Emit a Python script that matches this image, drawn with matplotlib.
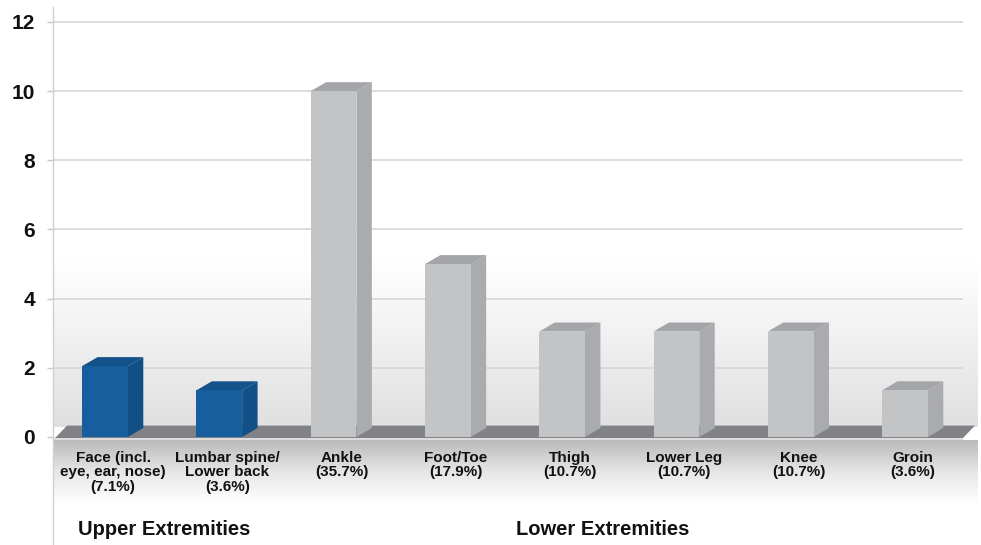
import numpy as np
import matplotlib
matplotlib.use("Agg")
import matplotlib.pyplot as plt
from matplotlib.patches import Polygon
from matplotlib.colors import LinearSegmentedColormap

plt.rcParams["font.family"] = ["Liberation Sans", "DejaVu Sans"]
plt.rcParams["font.weight"] = "bold"

categories = [
    "Face (incl.\neye, ear, nose)\n(7.1%)",
    "Lumbar spine/\nLower back\n(3.6%)",
    "Ankle\n(35.7%)",
    "Foot/Toe\n(17.9%)",
    "Thigh\n(10.7%)",
    "Lower Leg\n(10.7%)",
    "Knee\n(10.7%)",
    "Groin\n(3.6%)",
]
values = [2.05, 1.35, 10.0, 5.0, 3.05, 3.05, 3.05, 1.35]
is_upper = [True, True, False, False, False, False, False, False]
group_labels = ["Upper Extremities", "Lower Extremities"]
yticks = [0, 2, 4, 6, 8, 10, 12]

blue = {"front": "#175e9f", "side": "#124f87", "top": "#14528c"}
gray = {"front": "#c3c4c6", "side": "#a9abae", "top": "#a3a5a8"}

fig = plt.figure(figsize=(9.81, 5.45), dpi=100)
ax = fig.add_axes([53 / 981, 0, 928 / 981, 1])

x_left, x_right = -0.455, 7.665
ax.set_xlim(x_left, x_right)
ax.set_ylim(-3.123, 12.636)

# back wall gradient and band under the floor
wall = LinearSegmentedColormap.from_list("wall", ["#e0e0e0", "#ffffff"])
grad = np.linspace(0, 1, 256).reshape(-1, 1)
ax.imshow(grad, extent=[x_left, 7.63, 0.3, 5.1], origin="lower", cmap=wall,
          aspect="auto", zorder=0)
under = LinearSegmentedColormap.from_list("under", ["#ffffff", "#e6e6e6", "#bababa"])
ax.imshow(grad, extent=[x_left, 7.63, -1.9, -0.08], origin="lower", cmap=under,
          aspect="auto", zorder=0)

# gridlines
ax.hlines(yticks[1:], x_left, 7.507, color="#d9d9d9", lw=1.3, zorder=1)

# floor
floor_d = 0.33
ax.add_patch(Polygon([(-0.437, -0.03), (7.507, -0.03), (7.612, floor_d),
                      (-0.332, floor_d)], closed=True, facecolor="#808285",
                     edgecolor="none", zorder=2))
ax.hlines(-0.07, x_left, 7.507, color="#d6d6d6", lw=1.2, zorder=2)

# 3D bars
w = 0.4
dx, dy = 0.135, 0.26
for i, (v, up) in enumerate(zip(values, is_upper)):
    c = blue if up else gray
    l, r = i - w / 2, i + w / 2
    ax.add_patch(Polygon([(r, 0), (r + dx, dy), (r + dx, v + dy), (r, v)],
                         closed=True, facecolor=c["side"], edgecolor="none", zorder=3))
    ax.add_patch(Polygon([(l, v), (l + dx, v + dy), (r + dx, v + dy), (r, v)],
                         closed=True, facecolor=c["top"], edgecolor="none", zorder=3))
    ax.add_patch(Polygon([(l, 0), (r, 0), (r, v), (l, v)],
                         closed=True, facecolor=c["front"], edgecolor="none", zorder=4))
    ax.text(i + 0.07, -0.4, categories[i], ha="center", va="top", fontsize=11,
            fontweight="bold", linespacing=1.05, color="#111111", zorder=5)

ax.text(-0.236, -2.68, group_labels[0], ha="left", va="center", fontsize=14.5,
        fontweight="bold", color="#111111")
ax.text(4.357, -2.68, group_labels[1], ha="center", va="center", fontsize=14.5,
        fontweight="bold", color="#111111")

# axis
for s in ["top", "right", "bottom"]:
    ax.spines[s].set_visible(False)
ax.spines["left"].set_color("#d0d0d0")
ax.spines["left"].set_linewidth(1.0)
ax.spines["left"].set_bounds(-3.2, 12.43)
ax.set_xticks([])
ax.set_yticks(yticks)
ax.set_yticklabels([str(t) for t in yticks], fontsize=15, fontweight="bold")
ax.tick_params(axis="y", length=4.3, width=1.0, color="#c8c8c8", pad=8.6,
               labelcolor="#111111")
ax.patch.set_alpha(0)

fig.savefig("out.png", dpi=100)
